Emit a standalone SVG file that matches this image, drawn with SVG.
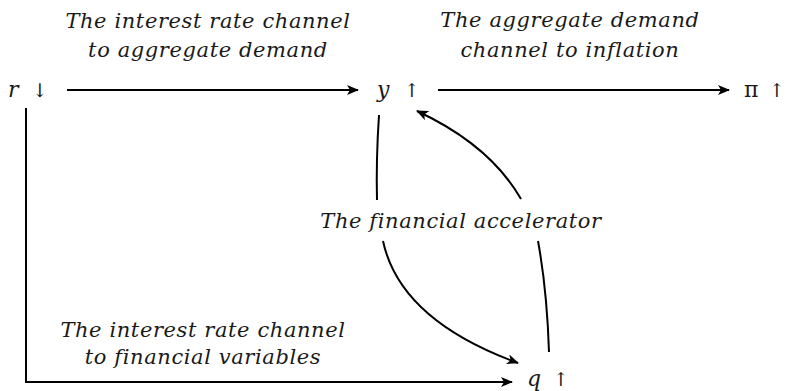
<svg xmlns="http://www.w3.org/2000/svg" width="788" height="391" viewBox="0 0 788 391">
<defs>
<marker id="ah" viewBox="0 0 12 10" refX="11" refY="5" markerWidth="12" markerHeight="10" markerUnits="userSpaceOnUse" orient="auto">
<path d="M0,0 L12,5 L0,10 L3,5 Z" fill="#000"/>
</marker>
</defs>
<style>
text{font-family:"DejaVu Serif","Liberation Serif",serif;font-style:italic;font-size:21px;letter-spacing:0.6px;fill:#1a1a1a}
.lab{text-anchor:middle}
.sym{font-size:22px;letter-spacing:0}
.up{font-style:normal}
.ar{font-style:normal;font-size:19px}
.c{fill:none;stroke:#000;stroke-width:2}
</style>
<rect width="788" height="391" fill="#fff"/>
<g id="node-r"><text class="sym" x="8" y="97">r<tspan class="ar" x="32">↓</tspan></text></g>
<g id="node-y"><text class="sym" x="377" y="97">y<tspan class="ar" x="404">↑</tspan></text></g>
<g id="node-pi"><text class="sym up" x="744" y="97">π<tspan class="ar" x="769">↑</tspan></text></g>
<g id="node-q"><text class="sym" x="527" y="386">q<tspan class="ar" x="553">↑</tspan></text></g>
<g id="labels">
<text class="lab" x="208" y="28">The interest rate channel</text>
<text class="lab" x="208" y="57">to aggregate demand</text>
<text class="lab" x="570" y="27">The aggregate demand</text>
<text class="lab" x="570" y="57">channel to inflation</text>
<text class="lab" x="461" y="228">The financial accelerator</text>
<text class="lab" x="203" y="337">The interest rate channel</text>
<text class="lab" x="203" y="364">to financial variables</text>
</g>
<g id="connectors">
<path class="c" d="M67,90 L358,90" marker-end="url(#ah)"/>
<path class="c" d="M438,90 L729,90" marker-end="url(#ah)"/>
<path class="c" d="M26,108 L26,382 L512,382" marker-end="url(#ah)"/>
<path class="c" d="M379,115 Q376,160 377,200"/>
<path class="c" d="M383,241 Q400,320 518,363" marker-end="url(#ah)"/>
<path class="c" d="M549,352 Q547,290 538,241"/>
<path class="c" d="M521,199 Q490,145 417,111" marker-end="url(#ah)"/>
</g>
</svg>
